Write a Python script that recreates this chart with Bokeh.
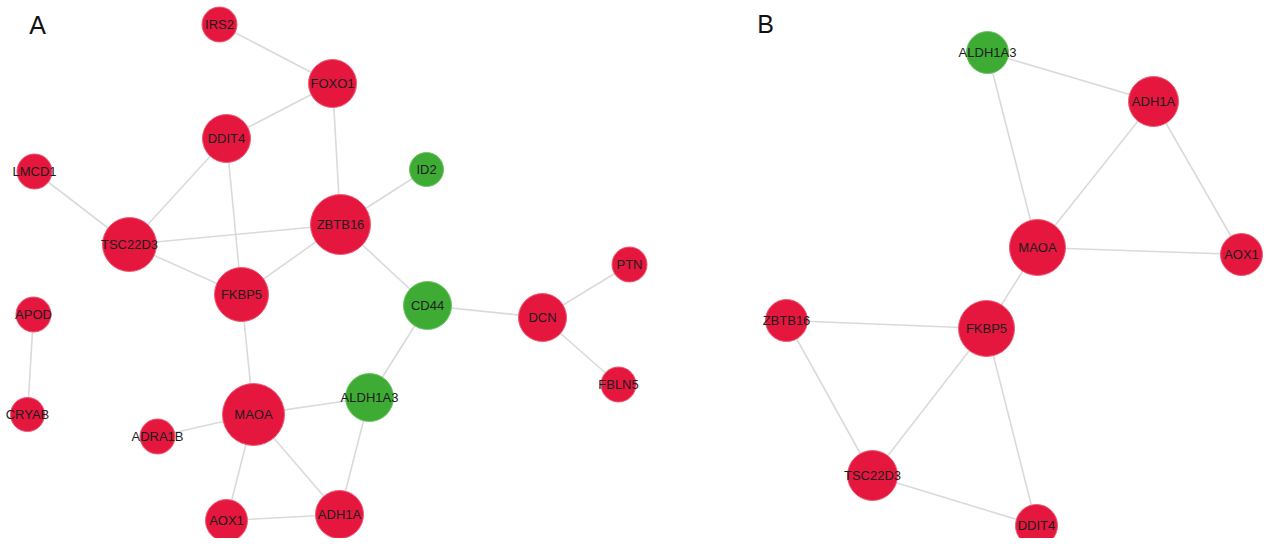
from bokeh.plotting import figure
from bokeh.models import Range1d, ColumnDataSource
from bokeh.core.properties import value
from bokeh.embed import file_html
from bokeh.resources import INLINE

# ---- Panel A network ----
a_names = ["IRS2", "FOXO1", "DDIT4", "LMCD1", "ID2", "ZBTB16", "TSC22D3", "FKBP5",
           "CD44", "APOD", "CRYAB", "MAOA", "ALDH1A3", "ADRA1B", "AOX1", "ADH1A",
           "DCN", "PTN", "FBLN5"]
a_x = [219, 332, 226, 34, 426, 340, 129, 241, 427, 33, 27, 253, 369, 157, 226, 339, 542, 629, 618]
a_y = [24, 83, 138, 171, 169, 224, 244, 294, 305, 314, 414, 414, 397, 436, 520, 514, 317, 264, 384]
a_size = [17.5, 24, 24, 17.5, 17, 30, 27, 27, 24, 17.5, 17, 31, 24, 17.5, 21, 24, 24, 17.5, 17.5]
a_group = ["up", "up", "up", "up", "down", "up", "up", "up", "down", "up", "up", "up",
           "down", "up", "up", "up", "up", "up", "up"]
a_edges = [("IRS2", "FOXO1"), ("FOXO1", "DDIT4"), ("FOXO1", "ZBTB16"), ("LMCD1", "TSC22D3"),
           ("DDIT4", "TSC22D3"), ("DDIT4", "FKBP5"), ("ID2", "ZBTB16"), ("TSC22D3", "ZBTB16"),
           ("TSC22D3", "FKBP5"), ("ZBTB16", "FKBP5"), ("ZBTB16", "CD44"), ("CD44", "DCN"),
           ("CD44", "ALDH1A3"), ("DCN", "PTN"), ("DCN", "FBLN5"), ("APOD", "CRYAB"),
           ("FKBP5", "MAOA"), ("MAOA", "ALDH1A3"), ("MAOA", "ADRA1B"), ("MAOA", "AOX1"),
           ("MAOA", "ADH1A"), ("ALDH1A3", "ADH1A"), ("AOX1", "ADH1A")]

# ---- Panel B network ----
b_names = ["ALDH1A3", "ADH1A", "MAOA", "AOX1", "ZBTB16", "FKBP5", "TSC22D3", "DDIT4"]
b_x = [987, 1153, 1037, 1241, 786, 986, 872, 1036]
b_y = [52, 101, 247, 254, 320, 328, 475, 525]
b_size = [21, 25, 28, 21, 21, 28, 25, 21]
b_group = ["down", "up", "up", "up", "up", "up", "up", "up"]
b_edges = [("ALDH1A3", "ADH1A"), ("ALDH1A3", "MAOA"), ("ADH1A", "MAOA"), ("ADH1A", "AOX1"),
           ("MAOA", "AOX1"), ("MAOA", "FKBP5"), ("ZBTB16", "FKBP5"), ("ZBTB16", "TSC22D3"),
           ("FKBP5", "TSC22D3"), ("FKBP5", "DDIT4"), ("TSC22D3", "DDIT4")]

panel_labels = ["A", "B"]
panel_x = [37, 765]
panel_y = [24, 23]

COLORS = {"up": "#E5173F", "down": "#3EAB34"}
LINES = {"up": "#EE5A72", "down": "#6CC464"}

p = figure(width=1271, height=538, output_backend="svg", toolbar_location=None,
           x_range=Range1d(0, 1271), y_range=Range1d(538, 0),
           min_border=0, min_border_left=0, min_border_right=0,
           min_border_top=0, min_border_bottom=0)
p.axis.visible = False
p.grid.visible = False
p.outline_line_color = None
p.background_fill_color = "white"


def draw(names, xs, ys, sizes, groups, edges):
    pos = {n: (x, y) for n, x, y in zip(names, xs, ys)}
    x0 = [pos[a][0] for a, b in edges]
    y0 = [pos[a][1] for a, b in edges]
    x1 = [pos[b][0] for a, b in edges]
    y1 = [pos[b][1] for a, b in edges]
    p.segment(x0=x0, y0=y0, x1=x1, y1=y1, line_color="#DADADA", line_width=1.6)
    src = ColumnDataSource(dict(x=xs, y=ys, r=sizes, name=names,
                                fill=[COLORS[g] for g in groups],
                                line=[LINES[g] for g in groups]))
    p.circle(x="x", y="y", radius="r", source=src, fill_color="fill",
             line_color="line", line_width=1)
    p.text(x="x", y="y", text="name", source=src, text_align="center",
           text_baseline="middle", text_font=value("Liberation Sans"),
           text_font_size="13px", text_color="#1c1c1c")


draw(a_names, a_x, a_y, a_size, a_group, a_edges)
draw(b_names, b_x, b_y, b_size, b_group, b_edges)

p.text(x=panel_x, y=panel_y, text=panel_labels, text_align="center",
       text_baseline="middle", text_font=value("Liberation Sans"),
       text_font_size="25px", text_color="#111111")

open("out.html", "w").write(file_html(p, INLINE))
